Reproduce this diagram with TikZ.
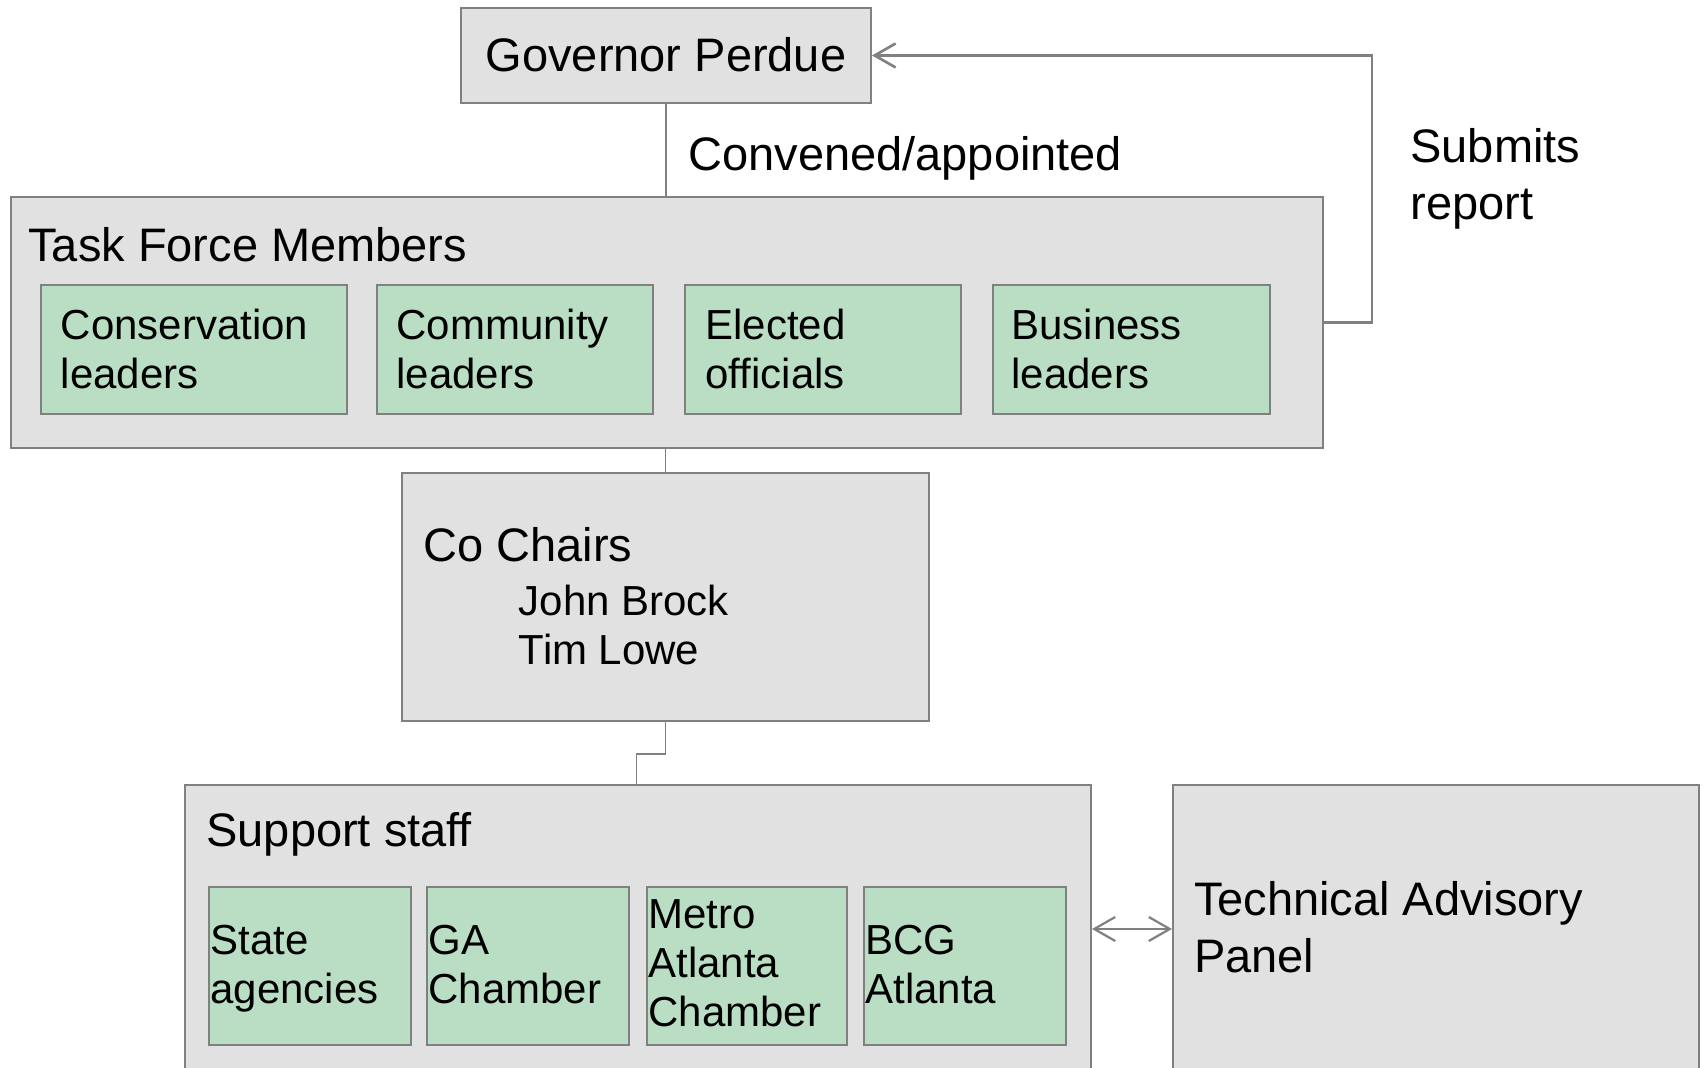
\documentclass[tikz,border=0pt]{standalone}
\usepackage{fontspec}
\setmainfont{Liberation Sans}
\usetikzlibrary{arrows.meta,fit}
\definecolor{boxgray}{HTML}{E1E1E1}
\definecolor{linegray}{HTML}{808080}
\definecolor{boxgreen}{HTML}{BADEC4}
\newcommand{\bigf}{\fontsize{23.5}{28.5}\selectfont}
\newcommand{\smallf}{\fontsize{21}{24.5}\selectfont}
\newcommand{\lines}[1]{\begin{tabular}[t]{@{}l@{}}#1\end{tabular}}
\begin{document}
\begin{tikzpicture}[x=0.5pt,y=-0.5pt,
  graybox/.style={draw=linegray, fill=boxgray, line width=1pt, inner sep=0pt},
  greenbox/.style={draw=linegray, fill=boxgreen, line width=1pt, inner sep=0pt},
  conn/.style={draw=linegray, line width=0.7pt},
  arr/.style={draw=linegray, line width=1.3pt, -{Straight Barb[length=10.5pt,width=12pt]}},
  darr/.style={draw=linegray, line width=1.1pt, {Straight Barb[length=10.5pt,width=12pt]}-{Straight Barb[length=10.5pt,width=12pt]}},
  txt/.style={inner sep=0pt, anchor=base west},
]
\useasboundingbox (0,0) rectangle (1705,1068);
\clip (0,0) rectangle (1705,1068);

% Governor
\node[graybox, fit={(461,8)(871,103)}] (gov) {};
\node[font=\bigf, inner sep=0pt, anchor=base] (govt) at (666,72) {Governor Perdue};

% Task force
\node[graybox, fit={(11,197)(1323,448)}] (tf) {};
\node[txt, font=\bigf] (tft) at (28,262) {Task Force Members};
\node[greenbox, fit={(41,285)(347,414)}] (cons) {};
\node[greenbox, fit={(377,285)(653,414)}] (comm) {};
\node[greenbox, fit={(685,285)(961,414)}] (elec) {};
\node[greenbox, fit={(993,285)(1270,414)}] (bus) {};
\node[txt, font=\smallf] (const) at (60.5,340) {\lines{Conservation\\leaders}};
\node[txt, font=\smallf] (commt) at (396,340) {\lines{Community\\leaders}};
\node[txt, font=\smallf] (elect) at (705,340) {\lines{Elected\\officials}};
\node[txt, font=\smallf] (bust) at (1011,340) {\lines{Business\\leaders}};

\draw[conn] (gov.south) -- (gov.south |- tf.north);
\node[txt, font=\bigf] (conv) at (688,170.5) {Convened/appointed};

\draw[arr] (tf.east) -- ++(48,0) |- (gov.east);
\node[txt, font=\bigf] (sub) at (1410,163) {\lines{Submits\\report}};

% Co chairs
\node[graybox, fit={(402,473)(929,721)}] (cc) {};
\node[txt, font=\bigf] (cct) at (423,562) {Co Chairs};
\node[txt, font=\smallf] (ccn) at (518.5,615.7) {\lines{John Brock\\Tim Lowe}};
\draw[conn] (cc.north |- tf.south) -- (cc.north);

% Support staff
\node[graybox, fit={(185,785)(1091,1090)}] (ss) {};
\node[txt, font=\bigf] (sst) at (206,847) {Support staff};
\node[greenbox, fit={(209,887)(411,1045)}] (st) {};
\node[greenbox, fit={(427,887)(629,1045)}] (ga) {};
\node[greenbox, fit={(647,887)(847,1045)}] (me) {};
\node[greenbox, fit={(864,887)(1066,1045)}] (bcg) {};
\node[txt, font=\smallf] (stt) at (210,955) {\lines{State\\agencies}};
\node[txt, font=\smallf] (gat) at (428,955) {\lines{GA\\Chamber}};
\node[txt, font=\smallf] (met) at (648,928.3) {\lines{Metro\\Atlanta\\Chamber}};
\node[txt, font=\smallf] (bcgt) at (865,955) {\lines{BCG\\Atlanta}};

\coordinate (ssin) at (636.5,785);
\draw[conn] (cc.south) -- ++(0,32) -| (ssin);

% Technical advisory panel
\node[graybox, fit={(1173,785)(1699,1090)}] (tap) {};
\node[txt, font=\bigf] (tapt) at (1193.6,915.7) {\lines{Technical Advisory\\Panel}};

\coordinate (dy) at (0,929);
\draw[darr] (ss.east |- dy) -- (tap.west |- dy);
\end{tikzpicture}
\end{document}
